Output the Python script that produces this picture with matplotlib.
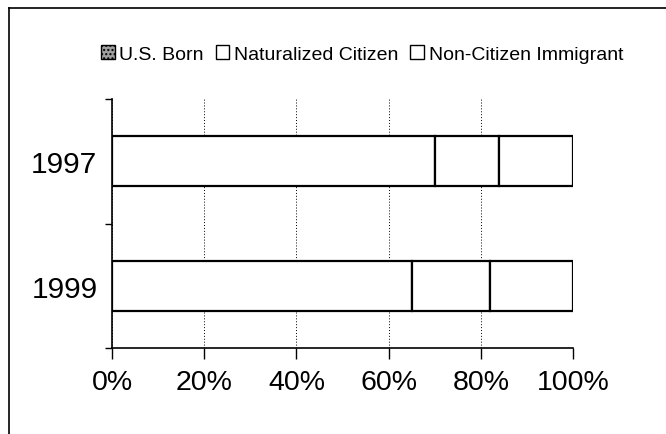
import matplotlib
matplotlib.use("Agg")
import matplotlib.pyplot as plt
from matplotlib.patches import Patch
from matplotlib.lines import Line2D
import numpy as np

plt.rcParams['font.family'] = ['Liberation Sans', 'DejaVu Sans']

years = ["1997", "1999"]
series = ["U.S. Born", "Naturalized Citizen", "Non-Citizen Immigrant"]
us_born = [70, 65]
naturalized = [14, 17]
non_citizen = [16, 18]
xticks = [0, 20, 40, 60, 80, 100]
xticklabels = ["0%", "20%", "40%", "60%", "80%", "100%"]

fig = plt.figure(figsize=(6.66, 4.35), dpi=100)
ax = fig.add_axes([112/666, 1-349/435, (573-112)/666, (349-100)/435])

y = np.arange(len(years))
left = np.zeros(len(years))
for vals in [us_born, naturalized, non_citizen]:
    ax.barh(y, vals, left=left, height=0.4, facecolor="white",
            edgecolor="black", linewidth=1.6, zorder=3)
    left = left + np.array(vals)

ax.set_ylim(1.5, -0.5)
ax.set_xlim(0, 100)
ax.set_yticks(y)
ax.set_yticklabels(years, fontsize=21.5)
ax.set_yticks([-0.5, 0.5, 1.5], minor=True)
ax.tick_params(axis="y", which="major", length=0, pad=10.5)
ax.tick_params(axis="y", which="minor", length=5, width=1, direction="out")
ax.set_xticks(xticks)
ax.set_xticklabels(xticklabels, fontsize=20.5)
ax.tick_params(axis="x", length=8, width=1, direction="out", pad=7)
for s in ["top", "right"]:
    ax.spines[s].set_visible(False)
for s in ["left", "bottom"]:
    ax.spines[s].set_linewidth(1.2)
ax.xaxis.grid(True, linestyle=(0, (1, 2)), color="black", linewidth=0.7, zorder=0)
ax.set_axisbelow(True)

handles = [Patch(facecolor="#a0a0a0", edgecolor="black", hatch="....", linewidth=1),
           Patch(facecolor="white", edgecolor="black", linewidth=1),
           Patch(facecolor="white", edgecolor="black", linewidth=1)]
leg = fig.legend(handles, series, loc="center left", bbox_to_anchor=(101/666, 1-55/435),
                 ncol=3, frameon=False, fontsize=14, handlelength=0.7, handleheight=0.7,
                 handletextpad=0.25, columnspacing=0.6, borderpad=0, borderaxespad=0)

fig.add_artist(Line2D([9/666, 9/666], [0, 1-9/435], color="black", linewidth=1.2, transform=fig.transFigure))
fig.add_artist(Line2D([9/666, 1], [1-9/435, 1-9/435], color="black", linewidth=1.2, transform=fig.transFigure))

fig.savefig("out.png", dpi=100)
